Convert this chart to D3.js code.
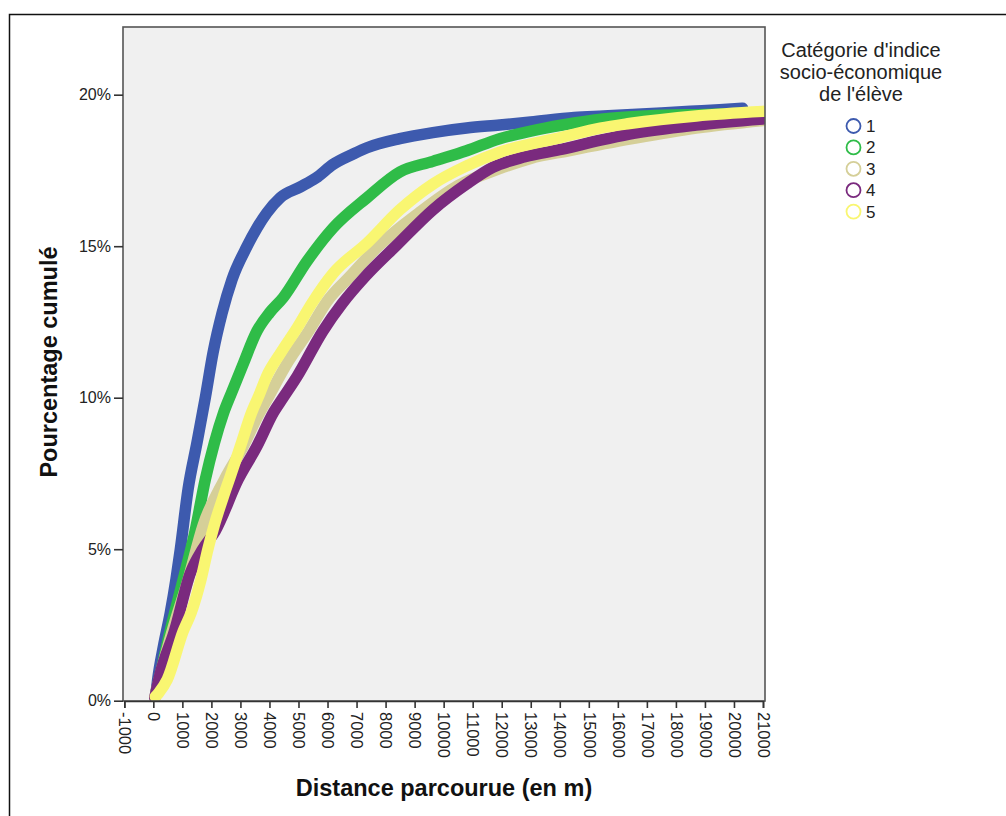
<!DOCTYPE html>
<html>
<head>
<meta charset="utf-8">
<script src="https://cdn.jsdelivr.net/npm/d3@7"></script>
<style>
  html, body { margin: 0; padding: 0; background: #fff; }
  svg { display: block; font-family: "Liberation Sans", Arial, sans-serif; }
</style>
</head>
<body>
<svg id="chart" width="1006" height="816"></svg>
<script>
// ---------------- DATA ----------------
const categories = ["1", "2", "3", "4", "5"];
const seriesColors = ["#3d5aae", "#2fbc48", "#d5cf98", "#7a2a7e", "#f9f671"];

// [distance (m), cumulative %]
const cat1 = [[100,0.3],[150,0.7],[350,1.8],[585,2.9],[780,4.0],[930,5.0],[1200,7.0],[1500,8.5],[1790,10.0],[2060,11.5],[2370,12.8],[2710,13.9],[3230,15.0],[3570,15.6],[3910,16.1],[4370,16.6],[5050,16.95],[5600,17.25],[6190,17.7],[6900,18.05],[7360,18.25],[8490,18.55],[9630,18.75],[10790,18.9],[11930,19.0],[13000,19.1],[14500,19.25],[15500,19.3],[16500,19.35],[17500,19.4],[18500,19.45],[19500,19.5],[20300,19.55]];
const cat2 = [[100,0.3],[200,0.7],[580,2.3],[1030,4.0],[1440,5.6],[1790,7.3],[2100,8.5],[2420,9.5],[2710,10.2],[3090,11.1],[3570,12.2],[4000,12.8],[4470,13.3],[5290,14.5],[6190,15.6],[7360,16.6],[8490,17.45],[9630,17.8],[10790,18.15],[11930,18.55],[13000,18.8],[14090,19.0],[15500,19.2],[17000,19.3],[19000,19.35],[20800,19.4]];
const cat3 = [[50,0.1],[200,0.7],[650,2.3],[1200,4.0],[1720,5.8],[2450,7.3],[3100,8.4],[3550,9.3],[3950,10.0],[4650,11.2],[5350,12.2],[6000,13.2],[6770,14.0],[7750,15.0],[9150,16.1],[10500,17.0],[11900,17.55],[13000,17.9],[14300,18.15],[16500,18.55],[18700,18.9],[21000,19.15]];
const cat4 = [[50,0.1],[240,0.9],[730,2.3],[1270,4.2],[1700,5.0],[2130,5.6],[2920,7.3],[3570,8.4],[4130,9.5],[4470,10.0],[4950,10.7],[5840,12.2],[6500,13.1],[7300,14.0],[8400,15.05],[9630,16.2],[10790,17.05],[11690,17.6],[12800,17.95],[14090,18.2],[15400,18.5],[16400,18.7],[18700,19.0],[21000,19.2]];
const cat5 = [[70,0.13],[180,0.25],[480,0.7],[1030,2.3],[1300,2.9],[1640,4.0],[1880,5.0],[2100,5.8],[2400,6.7],[2650,7.4],[3000,8.4],[3380,9.5],[3650,10.1],[3900,10.7],[4400,11.5],[4950,12.3],[5450,13.1],[6190,14.1],[7360,15.1],[8490,16.2],[9630,17.05],[10790,17.65],[11930,18.1],[14090,18.6],[15400,18.9],[16400,19.05],[18700,19.3],[21000,19.45]];
const seriesData = [cat1, cat2, cat3, cat4, cat5];

const xTicks = [-1000,0,1000,2000,3000,4000,5000,6000,7000,8000,9000,10000,11000,12000,13000,14000,15000,16000,17000,18000,19000,20000,21000];
const yTicks = [0, 5, 10, 15, 20];
const xTitle = "Distance parcourue (en m)";
const yTitle = "Pourcentage cumulé";
const legendTitle = ["Catégorie d'indice", "socio-économique", "de l'élève"];

// ---------------- LAYOUT ----------------
const svg = d3.select("#chart");
const plot = { left: 123, top: 27, right: 765, bottom: 701 };

const x = d3.scaleLinear().domain([-1000, 21000]).range([124.3, 763]);
const y = d3.scaleLinear().domain([0, 20]).range([700.7, 94.7]);

// outer frame
svg.append("rect")
  .attr("x", 9.5).attr("y", 14.5)
  .attr("width", 1010).attr("height", 820)
  .attr("fill", "#fff").attr("stroke", "#111").attr("stroke-width", 1.5);

// plot background
svg.append("rect")
  .attr("x", plot.left).attr("y", plot.top)
  .attr("width", plot.right - plot.left).attr("height", plot.bottom - plot.top)
  .attr("fill", "#f0f0f0");

svg.append("clipPath").attr("id", "clip")
  .append("rect")
  .attr("x", plot.left).attr("y", plot.top)
  .attr("width", plot.right - plot.left).attr("height", plot.bottom - plot.top);

// series
const line = d3.line()
  .x(d => x(d[0]))
  .y(d => y(d[1]))
  .curve(d3.curveMonotoneX);

const gSeries = svg.append("g").attr("clip-path", "url(#clip)");
seriesData.forEach((data, i) => {
  gSeries.append("path")
    .datum(data)
    .attr("d", line)
    .attr("fill", "none")
    .attr("stroke", seriesColors[i])
    .attr("stroke-width", 11.5)
    .attr("stroke-linecap", "round")
    .attr("stroke-linejoin", "round");
});

// plot border
svg.append("rect")
  .attr("x", plot.left).attr("y", plot.top)
  .attr("width", plot.right - plot.left).attr("height", plot.bottom - plot.top)
  .attr("fill", "none").attr("stroke", "#555").attr("stroke-width", 1.6);

// y axis
const yAxis = svg.append("g")
  .attr("transform", `translate(${plot.left},0)`)
  .call(d3.axisLeft(y).tickValues(yTicks).tickFormat(d => d + "%").tickSize(9).tickPadding(3));
yAxis.select(".domain").remove();
yAxis.selectAll(".tick line").attr("stroke", "#333").attr("stroke-width", 1.6);
yAxis.selectAll(".tick text")
  .attr("fill", "#222")
  .style("font-size", "16px")
  .style("font-family", "'Liberation Sans', Arial, sans-serif");

// x axis
const xAxis = svg.append("g")
  .attr("transform", `translate(0,${plot.bottom})`)
  .call(d3.axisBottom(x).tickValues(xTicks).tickFormat(d => String(d)).tickSize(7));
xAxis.select(".domain").attr("stroke", "#333").attr("stroke-width", 1.6);
xAxis.selectAll(".tick line").attr("stroke", "#333").attr("stroke-width", 1.6);
xAxis.selectAll(".tick text")
  .attr("fill", "#222")
  .attr("transform", "rotate(90)")
  .attr("x", 11)
  .attr("y", 0)
  .attr("dy", "0.35em")
  .style("text-anchor", "start")
  .style("font-size", "16.5px")
  .style("font-family", "'Liberation Sans', Arial, sans-serif");

// axis titles
svg.append("text")
  .attr("x", (296 + 592) / 2).attr("y", 796)
  .attr("text-anchor", "middle")
  .attr("font-weight", "bold")
  .attr("font-size", 23.5)
  .attr("fill", "#111")
  .text(xTitle);

svg.append("text")
  .attr("transform", "translate(57,362) rotate(-90)")
  .attr("text-anchor", "middle")
  .attr("font-weight", "bold")
  .attr("font-size", 23.5)
  .attr("fill", "#111")
  .text(yTitle);

// legend
const lg = svg.append("g");
legendTitle.forEach((t, i) => {
  lg.append("text")
    .attr("x", 861).attr("y", 56.5 + i * 22)
    .attr("text-anchor", "middle")
    .attr("font-size", 20)
    .attr("fill", "#222")
    .text(t);
});
categories.forEach((c, i) => {
  const cy = 126 + i * 21.4;
  lg.append("circle")
    .attr("cx", 853.5).attr("cy", cy).attr("r", 7)
    .attr("fill", "none")
    .attr("stroke", seriesColors[i])
    .attr("stroke-width", 1.8);
  lg.append("text")
    .attr("x", 866).attr("y", cy + 6)
    .attr("font-size", 17)
    .attr("fill", "#222")
    .text(c);
});
</script>
</body>
</html>
